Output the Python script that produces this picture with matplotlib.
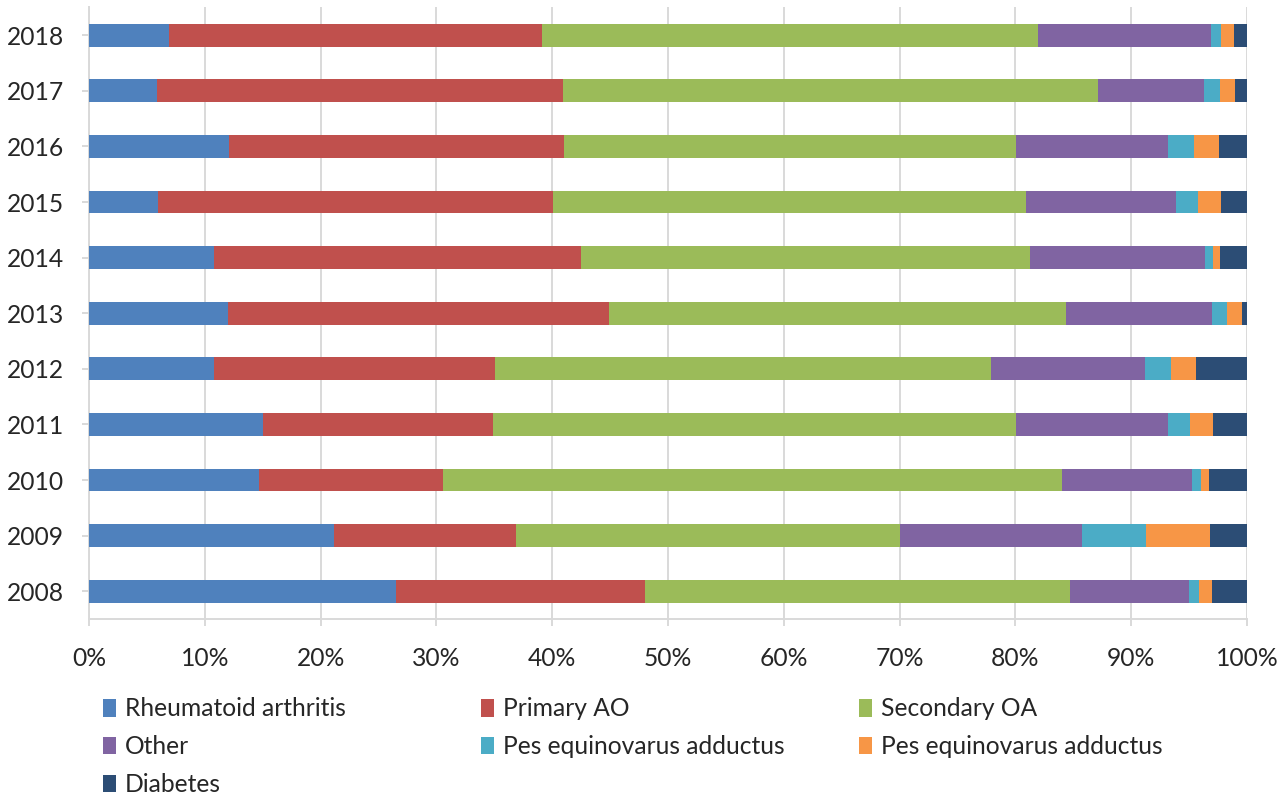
import matplotlib
matplotlib.use("Agg")
import matplotlib.pyplot as plt
import numpy as np

years = ["2008", "2009", "2010", "2011", "2012", "2013",
         "2014", "2015", "2016", "2017", "2018"]

# share of each diagnosis per year (%)
rheumatoid = [26.5, 21.2, 14.7, 15.0, 10.8, 12.0, 10.8, 6.0, 12.1, 5.9, 6.9]
primary_ao = [21.5, 15.7, 15.9, 19.9, 24.3, 32.9, 31.7, 34.1, 28.9, 35.0, 32.2]
secondary_oa = [36.7, 33.15, 53.4, 45.15, 42.8, 39.5, 38.8, 40.8, 39.1, 46.25, 42.9]
other = [10.3, 15.75, 11.3, 13.1, 13.3, 12.6, 15.1, 13.0, 13.05, 9.15, 14.9]
pes_a = [0.9, 5.5, 0.7, 1.9, 2.25, 1.3, 0.7, 1.9, 2.25, 1.4, 0.9]
pes_b = [1.05, 5.5, 0.7, 2.0, 2.15, 1.3, 0.6, 2.0, 2.15, 1.3, 1.1]
diabetes = [3.05, 3.2, 3.3, 2.95, 4.4, 0.4, 2.3, 2.2, 2.45, 1.0, 1.1]

series = [
    ("Rheumatoid arthritis", rheumatoid, "#4F81BD"),
    ("Primary AO", primary_ao, "#C0504D"),
    ("Secondary OA", secondary_oa, "#9BBB59"),
    ("Other", other, "#8064A2"),
    ("Pes equinovarus adductus", pes_a, "#4BACC6"),
    ("Pes equinovarus adductus", pes_b, "#F79646"),
    ("Diabetes", diabetes, "#2C4D75"),
]

plt.rcParams['font.family'] = ['Lato', 'DejaVu Sans']
grid_col = "#D9D9D9"
text_col = "#262626"
fs = 17.7

fig = plt.figure(figsize=(12.88, 7.98), dpi=100)
ax = fig.add_axes([0.0691, 0.2243, 0.8990, 0.7664])

y = np.arange(len(years))
left = np.zeros(len(years))
handles = []
for name, vals, col in series:
    vals = np.array(vals)
    bars = ax.barh(y, vals, left=left, height=0.41, color=col, label=name, zorder=3)
    left += vals
    handles.append(bars)

ax.set_xlim(0, 100)
ax.set_ylim(-0.5, len(years) - 0.5)
ax.set_yticks(y)
ax.set_yticklabels(years)
ax.set_xticks(np.arange(0, 101, 10))
ax.set_xticklabels([f"{v}%" for v in range(0, 101, 10)])
ax.xaxis.grid(True, color=grid_col, linewidth=1.4, zorder=0)
ax.tick_params(axis='both', colors=grid_col, labelcolor=text_col, labelsize=fs,
               length=5, width=1.4)
ax.tick_params(axis='x', pad=15)
ax.tick_params(axis='y', pad=13)
for side in ("top", "right"):
    ax.spines[side].set_visible(False)
for side in ("left", "bottom"):
    ax.spines[side].set_color(grid_col)
    ax.spines[side].set_linewidth(1.4)

# legend laid out row by row in three columns
columns = [[0, 3, 6], [1, 4], [2, 5]]
col_x = [0.0801, 0.3736, 0.6671]
for cx, idx in zip(col_x, columns):
    leg = fig.legend([handles[i] for i in idx], [series[i][0] for i in idx],
                     loc="upper left", bbox_to_anchor=(cx, 0.126),
                     frameon=False, fontsize=fs, handlelength=0.52,
                     handleheight=0.72, handletextpad=0.35, labelspacing=0.6,
                     borderaxespad=0, borderpad=0, labelcolor=text_col)

fig.savefig("out.png", dpi=100)
